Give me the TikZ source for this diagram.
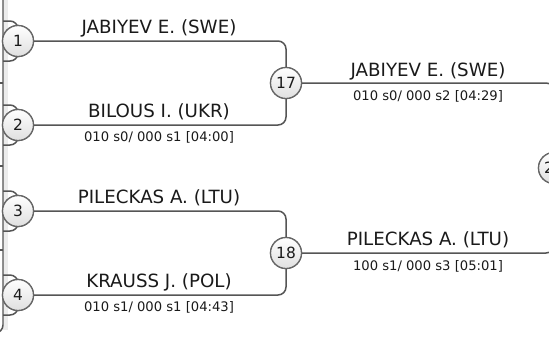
\documentclass[tikz,border=0pt]{standalone}
\usepackage{fontspec}
\setmainfont{DejaVu Sans}
\definecolor{linec}{HTML}{555555}
\definecolor{circb}{HTML}{666666}
\definecolor{txt}{HTML}{1A1A1A}
\tikzset{
  conn/.style={draw=linec, line width=1.5pt, rounded corners=8bp},
  matchc/.style={circle, draw=circb, line width=1.3pt, minimum size=31bp, inner sep=0pt,
     top color=white, bottom color=gray!25, text=txt, font=\fontsize{15.5}{17}\selectfont},
  pname/.style={anchor=base, inner sep=0pt, text=txt, font=\fontsize{18.3}{20}\selectfont},
  pscore/.style={anchor=north, inner sep=0pt, text=txt, font=\fontsize{13.2}{15}\selectfont}
}
\begin{document}
\begin{tikzpicture}[x=1bp, y=-1bp]
\useasboundingbox (0,0) rectangle (549,338);
\begin{scope}
\clip (0,0) rectangle (549,338);
% left band and line
\fill[gray!15] (3,-5) rectangle (8,330);
\coordinate (ltop) at (3,-5);
\coordinate (lbot) at (-8,333);
\draw[conn] (ltop) |- (lbot);
\foreach \yy in {83,166,250} {
  \coordinate (t1\yy) at (-5,\yy);
  \coordinate (t2\yy) at (3,\yy);
  \draw[conn] (t1\yy) -- (t2\yy);
}
% match circles
\node[matchc] (c1) at (18,41) {1};
\node[matchc] (c2) at (18,125) {2};
\node[matchc] (c3) at (18,211) {3};
\node[matchc] (c4) at (18,295) {4};
\node[matchc] (c17) at (286,83) {17};
\node[matchc] (c18) at (286,253) {18};
\node[matchc] (c25) at (554,168) {25};
% left feeder arcs
\foreach \c/\yy in {c1/41,c2/125,c3/211,c4/295} {
  \coordinate (a\c) at (3,\yy-20);
  \coordinate (b\c) at (3,\yy+20);
  \draw[conn] (a\c) -| (\c.north);
  \draw[conn] (b\c) -| (\c.south);
}
% brackets
\draw[conn] (c1.east) -| (c17.north);
\draw[conn] (c2.east) -| (c17.south);
\draw[conn] (c3.east) -| (c18.north);
\draw[conn] (c4.east) -| (c18.south);
\draw[conn] (c17.east) -| (c25.north);
\draw[conn] (c18.east) -| (c25.south);
% redraw circles on top
\foreach \c/\t in {c1/1,c2/2,c3/3,c4/4,c17/17,c18/18,c25/25}
  \node[matchc] at (\c) {\t};
% texts
\node[pname] (n1) at (159,33) {JABIYEV E. (SWE)};
\node[pname] (n2) at (159,117) {BILOUS I. (UKR)};
\node[pscore] (s2) at (159,131) {010 s0/ 000 s1 [04:00]};
\node[pname] (n3) at (159,203) {PILECKAS A. (LTU)};
\node[pname] (n4) at (159,287) {KRAUSS J. (POL)};
\node[pscore] (s4) at (159,301) {010 s1/ 000 s1 [04:43]};
\node[pname] (n17) at (428,76) {JABIYEV E. (SWE)};
\node[pscore] (s17) at (428,90) {010 s0/ 000 s2 [04:29]};
\node[pname] (n18) at (428,245) {PILECKAS A. (LTU)};
\node[pscore] (s18) at (428,260) {100 s1/ 000 s3 [05:01]};
\end{scope}
\end{tikzpicture}
\end{document}
